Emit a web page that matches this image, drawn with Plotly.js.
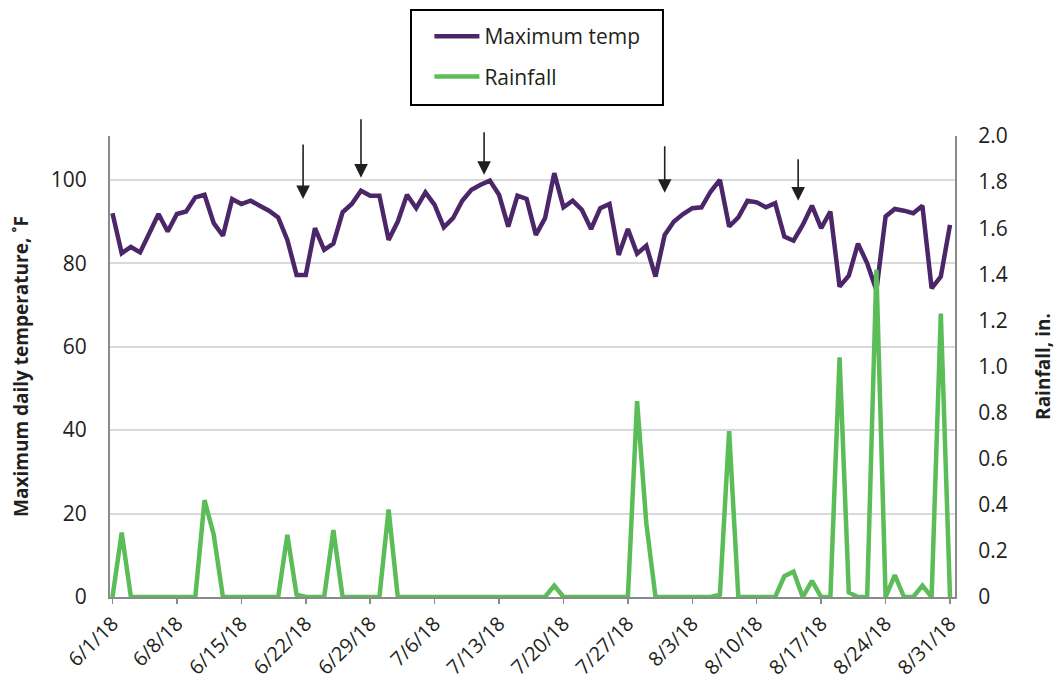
<!DOCTYPE html>
<html>
<head>
<meta charset="utf-8">
<script src="https://cdn.plot.ly/plotly-3.0.1.min.js"></script>
<style>html,body{margin:0;padding:0;background:#fff;}#chart{width:1057px;height:681px;}</style>
</head>
<body>
<div id="chart"></div>
<script>
const dates = [
 '2018-06-01','2018-06-02','2018-06-03','2018-06-04','2018-06-05','2018-06-06','2018-06-07','2018-06-08','2018-06-09','2018-06-10',
 '2018-06-11','2018-06-12','2018-06-13','2018-06-14','2018-06-15','2018-06-16','2018-06-17','2018-06-18','2018-06-19','2018-06-20',
 '2018-06-21','2018-06-22','2018-06-23','2018-06-24','2018-06-25','2018-06-26','2018-06-27','2018-06-28','2018-06-29','2018-06-30',
 '2018-07-01','2018-07-02','2018-07-03','2018-07-04','2018-07-05','2018-07-06','2018-07-07','2018-07-08','2018-07-09','2018-07-10',
 '2018-07-11','2018-07-12','2018-07-13','2018-07-14','2018-07-15','2018-07-16','2018-07-17','2018-07-18','2018-07-19','2018-07-20',
 '2018-07-21','2018-07-22','2018-07-23','2018-07-24','2018-07-25','2018-07-26','2018-07-27','2018-07-28','2018-07-29','2018-07-30',
 '2018-07-31','2018-08-01','2018-08-02','2018-08-03','2018-08-04','2018-08-05','2018-08-06','2018-08-07','2018-08-08','2018-08-09',
 '2018-08-10','2018-08-11','2018-08-12','2018-08-13','2018-08-14','2018-08-15','2018-08-16','2018-08-17','2018-08-18','2018-08-19',
 '2018-08-20','2018-08-21','2018-08-22','2018-08-23','2018-08-24','2018-08-25','2018-08-26','2018-08-27','2018-08-28','2018-08-29',
 '2018-08-30','2018-08-31'
];
const maxTemp = [
 92.0,82.4,83.9,82.6,87.2,91.8,87.6,91.8,92.4,95.8,
 96.4,89.6,86.6,95.4,94.2,95.0,93.8,92.6,91.0,85.6,
 77.2,77.2,88.4,83.2,84.7,92.2,94.2,97.4,96.2,96.2,
 85.6,90.0,96.4,93.2,97.0,94.0,88.6,90.8,95.0,97.6,
 98.8,99.8,96.4,88.8,96.2,95.4,86.8,90.8,101.6,93.4,
 95.0,92.8,88.2,93.2,94.2,82.0,88.2,82.3,84.2,76.8,
 86.8,90.0,91.8,93.2,93.4,97.2,100.0,88.8,91.0,95.0,
 94.6,93.4,94.4,86.4,85.4,89.2,93.8,88.4,92.4,74.4,
 77.0,84.7,80.0,73.5,91.2,93.0,92.6,92.0,93.8,74.0,
 76.8,89.2
];
const rainfall = [
 0,0.28,0,0,0,0,0,0,0,0,
 0.42,0.27,0,0,0,0,0,0,0,0.27,
 0.01,0,0,0,0.29,0,0,0,0,0,
 0.38,0,0,0,0,0,0,0,0,0,
 0,0,0,0,0,0,0,0,0.05,0,
 0,0,0,0,0,0,0,0.85,0.32,0,
 0,0,0,0,0,0,0.01,0.72,0,0,
 0,0,0,0.09,0.11,0,0.07,0,0,1.04,
 0.02,0,0,1.42,0,0.095,0,0,0.05,0,
 1.23,0
];
const seriesNames = ['Maximum temp','Rainfall'];
const tempTicks = [0,20,40,60,80,100];
const rainTicks = [0,0.2,0.4,0.6,0.8,1.0,1.2,1.4,1.6,1.8,2.0];
const rainTickLabels = ['0','0.2','0.4','0.6','0.8','1.0','1.2','1.4','1.6','1.8','2.0'];
const xTickDates = ['2018-06-01','2018-06-08','2018-06-15','2018-06-22','2018-06-29','2018-07-06','2018-07-13','2018-07-20','2018-07-27','2018-08-03','2018-08-10','2018-08-17','2018-08-24','2018-08-31'];
const xTickLabels = ['6/1/18','6/8/18','6/15/18','6/22/18','6/29/18','7/6/18','7/13/18','7/20/18','7/27/18','8/3/18','8/10/18','8/17/18','8/24/18','8/31/18'];
// arrow markers: [date, temperature level at arrow tip, arrow length in px]
const arrowDates = ['2018-06-21 17:00','2018-06-28 00:00','2018-07-11 09:00','2018-07-31 00:00','2018-08-14 12:00'];
const arrowTips = [95.4,100.5,101.2,96.9,95.0];
const arrowLengths = [56,60,44,48,43];

const purple = '#4b2669';
const green = '#5bbd58';
const txt = '#231f20';
const font = 'Open Sans, Noto Sans, sans-serif';

const traces = [
  {x: dates, y: maxTemp, name: seriesNames[0], type: 'scatter', mode: 'lines',
   line: {color: purple, width: 4.5, shape: 'linear'}, yaxis: 'y', legendgroup: 'a'},
  {x: dates, y: rainfall, name: seriesNames[1], type: 'scatter', mode: 'lines',
   line: {color: green, width: 4.5, shape: 'linear'}, yaxis: 'y2', legendgroup: 'b'}
];

const annotations = arrowDates.map((d, i) => ({
  x: d, y: arrowTips[i], xref: 'x', yref: 'y', text: '', showarrow: true,
  ax: 0, ay: -arrowLengths[i], axref: 'pixel', ayref: 'pixel',
  arrowhead: 2, arrowsize: 1.7, arrowwidth: 1.6, arrowcolor: '#231f20', standoff: 0
}));

const layout = {
  width: 1057, height: 681,
  margin: {l: 110, r: 102, t: 136, b: 84, pad: 0},
  paper_bgcolor: '#fff', plot_bgcolor: '#fff',
  font: {family: font, color: txt, size: 21},
  showlegend: true,
  legend: {x: 0.378, y: 1.26, xanchor: 'left', yanchor: 'top', bgcolor: 'rgba(0,0,0,0)',
    borderwidth: 0, font: {size: 21, color: txt, family: font}, tracegroupgap: 10, itemwidth: 45},
  xaxis: {
    type: 'date', range: ['2018-05-31 17:30', '2018-08-31 13:00'],
    tickvals: xTickDates, ticktext: xTickLabels, tickangle: -45,
    ticks: 'outside', ticklen: 5, tickwidth: 1.5, tickcolor: '#8a8a8a',
    showline: true, linecolor: '#8a8a8a', linewidth: 2,
    showgrid: false, zeroline: false, tickfont: {size: 20, color: txt}
  },
  yaxis: {
    range: [0, 110.5], tickvals: tempTicks, ticks: '', showgrid: true, gridcolor: '#d9d9d9', gridwidth: 2,
    zeroline: false, showline: true, linecolor: '#8a8a8a', linewidth: 2,
    ticklabelstandoff: 17, tickfont: {size: 21, color: txt},
    title: {text: '<b>Maximum daily temperature, ˚F</b>', font: {size: 19, color: txt}, standoff: 17}
  },
  yaxis2: {
    range: [0, 2.0], tickvals: rainTicks, ticktext: rainTickLabels, overlaying: 'y', side: 'right',
    ticks: '', showgrid: false, zeroline: false, showline: true, linecolor: '#8a8a8a', linewidth: 2,
    ticklabelstandoff: 17, tickfont: {size: 21, color: txt},
    title: {text: '<b>Rainfall, in.</b>', font: {size: 19, color: txt}, standoff: 30}
  },
  shapes: [
    {type: 'rect', xref: 'paper', yref: 'paper', x0: 0.3562, x1: 0.6544, y0: 1.0672, y1: 1.2733,
     line: {color: '#000', width: 2}, fillcolor: 'rgba(0,0,0,0)'}
  ],
  annotations: annotations
};

Plotly.newPlot('chart', traces, layout, {displayModeBar: false, staticPlot: true});
</script>
</body>
</html>
